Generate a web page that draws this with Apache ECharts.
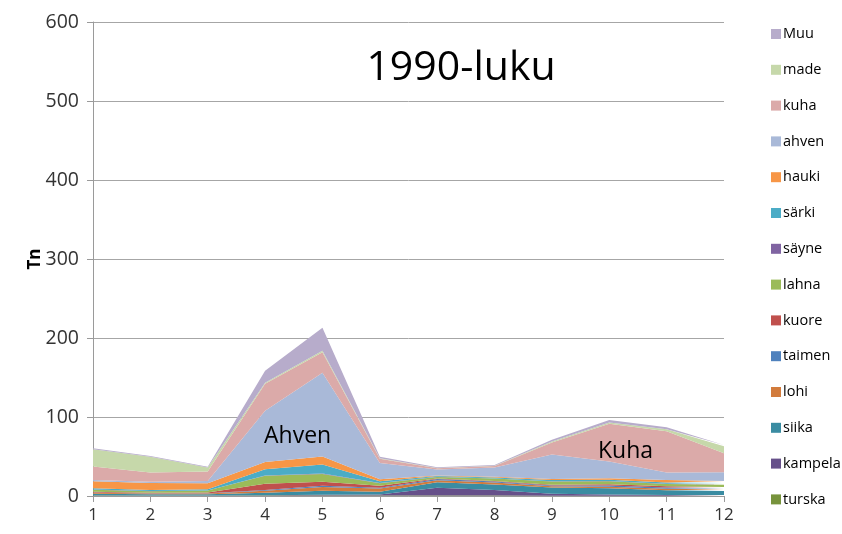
<!DOCTYPE html>
<html>
<head>
    <meta charset="utf-8">
    <title>1990-luku</title>
    <script src="https://cdn.jsdelivr.net/npm/echarts@6/dist/echarts.min.js"></script>
</head>
<body style="margin:0;">
    <div id="main" style="width:842px;height:534px;"></div>
    <script type="text/javascript">
        // kuukaudet
        var months = ['1', '2', '3', '4', '5', '6', '7', '8', '9', '10', '11', '12'];

        // saaliit (Tn), alimmasta ylimpään
        var turska  = [0.5, 0.3, 0.3, 0.5, 0.5, 0.5, 0.5, 0.5, 0.3, 0.3, 0.3, 0.3];
        var kampela = [0.5, 0.3, 0.3, 0.5, 1, 1.5, 10, 7, 2.5, 1.5, 1, 1];
        var siika   = [2, 1.5, 1.5, 3, 5, 3.5, 7, 7, 8, 8, 6, 5];
        var lohi    = [1, 1, 1, 2.5, 5, 4, 2.5, 2.5, 1.5, 2, 2, 2];
        var taimen  = [0.5, 0.3, 0.3, 1, 1.5, 1, 1.5, 1.5, 1, 1.5, 1.5, 1.5];
        var kuore   = [1, 0.7, 1, 8, 5, 2.5, 0.5, 0.5, 1, 1.5, 1.5, 1.5];
        var lahna   = [2.5, 2, 2.5, 10, 10, 3, 2, 3, 4, 4, 3, 3];
        var sayne   = [0.3, 0.2, 0.2, 0.5, 0.5, 0.3, 0.3, 0.3, 0.3, 0.3, 0.3, 0.3];
        var sarki   = [1.5, 1.3, 1.5, 8, 11.5, 2.5, 1, 1.2, 1.5, 1.5, 1.5, 2];
        var hauki   = [9, 9, 7.5, 9, 10, 2.5, 0.7, 1, 1.5, 2, 3, 2.5];
        var ahven   = [1.5, 1.5, 3, 65, 106, 20.5, 7.5, 11.5, 31, 21, 9.5, 11];
        var kuha    = [17, 11.5, 12, 34, 26, 5.5, 1.5, 2, 15, 48, 52.5, 24];
        var made    = [22, 20, 5, 1.5, 2, 0.5, 0.3, 0.3, 1.5, 1.5, 2.5, 9];
        var muu     = [1, 1, 1, 15, 29, 2, 1, 1, 2, 3, 2.5, 1.5];

        var names  = ['turska', 'kampela', 'siika', 'lohi', 'taimen', 'kuore', 'lahna', 'säyne', 'särki', 'hauki', 'ahven', 'kuha', 'made', 'Muu'];
        var values = [turska, kampela, siika, lohi, taimen, kuore, lahna, sayne, sarki, hauki, ahven, kuha, made, muu];
        var colors = ['#77933C', '#66508A', '#3A8CA2', '#D27B3C', '#4F81BD', '#C0504D', '#9BBB59', '#8064A2', '#4BACC6', '#F79646', '#A9B9D8', '#DBAAA9', '#C6D8AA', '#B7ACCB'];

        var yTicks = [0, 100, 200, 300, 400, 500, 600];

        var series = [];
        for (var i = 0; i < names.length; i++) {
            series.push({
                name: names[i],
                type: 'line',
                stack: 'total',
                data: values[i],
                showSymbol: false,
                symbol: 'none',
                lineStyle: { width: 0 },
                itemStyle: { color: colors[i] },
                areaStyle: { color: colors[i], opacity: 1 }
            });
        }

        var myChart = echarts.init(document.getElementById('main'));
        var option = {
            animation: false,
            backgroundColor: '#fff',
            textStyle: { fontFamily: 'Open Sans' },
            title: {
                text: '1990-luku',
                left: 456,
                top: 43,
                textAlign: 'center',
                textStyle: { fontSize: 41, fontWeight: 'normal', color: '#000', fontFamily: 'Open Sans' }
            },
            legend: {
                orient: 'vertical',
                left: 766,
                top: 20,
                itemWidth: 10,
                itemHeight: 10,
                itemGap: 17.8,
                icon: 'rect',
                data: names.slice().reverse(),
                textStyle: { fontSize: 14.5, color: '#000', padding: [0, 0, 0, -3], lineHeight: 18 }
            },
            grid: { left: 93, right: 118, top: 22, bottom: 38 },
            xAxis: {
                type: 'category',
                data: months,
                boundaryGap: false,
                axisLine: { lineStyle: { color: '#9a9a9a', width: 1 } },
                axisTick: { show: true, length: 6, lineStyle: { color: '#9a9a9a' } },
                axisLabel: { fontSize: 17, color: '#333', margin: 11 }
            },
            yAxis: {
                type: 'value',
                min: yTicks[0],
                max: yTicks[yTicks.length - 1],
                interval: 100,
                axisLine: { show: true, lineStyle: { color: '#9a9a9a' } },
                axisTick: { show: true, length: 6, lineStyle: { color: '#9a9a9a' } },
                axisLabel: { fontSize: 19.5, color: '#333', margin: 14 },
                splitLine: { lineStyle: { color: '#a6a6a6', width: 1 } }
            },
            graphic: [
                { type: 'text', z: 100, x: 35, y: 259, rotation: Math.PI / 2, style: { text: 'Tn', fontSize: 17, fontWeight: 'bold', fill: '#000', fontFamily: 'Open Sans', align: 'center', verticalAlign: 'middle' } },
                { type: 'text', z: 100, left: 264, top: 425, style: { text: 'Ahven', fontSize: 23, fill: '#000', fontFamily: 'Open Sans' } },
                { type: 'text', z: 100, left: 598, top: 440, style: { text: 'Kuha', fontSize: 23, fill: '#000', fontFamily: 'Open Sans' } }
            ],
            series: series
        };
        myChart.setOption(option);
    </script>
</body>
</html>
